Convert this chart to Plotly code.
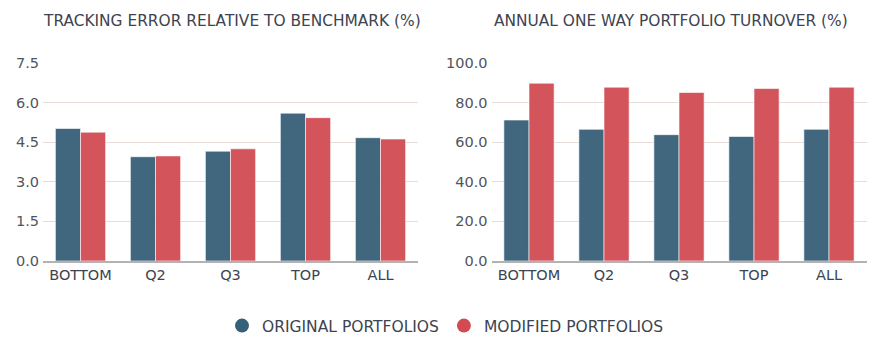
import plotly.graph_objects as go

categories = ["BOTTOM", "Q2", "Q3", "TOP", "ALL"]
te_original = [5.02, 3.95, 4.16, 5.60, 4.67]
te_modified = [4.88, 3.98, 4.25, 5.43, 4.62]
to_original = [71.2, 66.5, 63.8, 62.9, 66.5]
to_modified = [89.8, 87.8, 85.1, 87.1, 87.8]
te_ticks = [0, 1.5, 3.0, 4.5, 6.0, 7.5]
to_ticks = [0, 20, 40, 60, 80, 100]
series_names = ["ORIGINAL PORTFOLIOS", "MODIFIED PORTFOLIOS"]
titles = ["TRACKING ERROR RELATIVE TO BENCHMARK (%)", "ANNUAL ONE WAY PORTFOLIO TURNOVER (%)"]

C_ORIG = "#365f78"
C_MOD = "#d24b53"
TEXT = "#3d4350"
FONT = "DejaVu Sans"

W, H = 871, 352
fig = go.Figure()

def bar(x, y, color, xa, ya):
    return go.Bar(x=x, y=y, xaxis=xa, yaxis=ya, showlegend=False,
                  marker=dict(color=color, opacity=0.95,
                              line=dict(color="rgba(255,255,255,0.6)", width=1)),
                  hoverinfo="x+y")

fig.add_trace(bar(categories, te_original, C_ORIG, "x", "y"))
fig.add_trace(bar(categories, te_modified, C_MOD, "x", "y"))
fig.add_trace(bar(categories, to_original, C_ORIG, "x2", "y2"))
fig.add_trace(bar(categories, to_modified, C_MOD, "x2", "y2"))

for name, c in zip(series_names, [C_ORIG, C_MOD]):
    fig.add_trace(go.Scatter(x=[None], y=[None], mode="markers", name=name,
                             marker=dict(color=c, size=14, symbol="circle"),
                             showlegend=True))

y_dom = [(H - 261) / H, (H - 63) / H]
axis_common = dict(showgrid=False, showline=True, linecolor="#b3b3b3", linewidth=1.5,
                   ticks="", tickfont=dict(family=FONT, size=14.5, color=TEXT),
                   automargin=False, fixedrange=True)
yaxis_common = dict(showgrid=True, gridcolor="#e6ddd8", gridwidth=1, zeroline=False,
                    showline=False, ticks="", tickformat=".1f",
                    tickfont=dict(family=FONT, size=14.5, color="#50555c"),
                    automargin=False, domain=y_dom, fixedrange=True,
                    ticklabelstandoff=3)

fig.update_layout(
    width=W, height=H,
    margin=dict(l=0, r=0, t=0, b=0),
    paper_bgcolor="white", plot_bgcolor="white",
    barmode="group", bargap=0.33, bargroupgap=0,
    font=dict(family=FONT, color=TEXT),
    xaxis=dict(domain=[43 / W, 418 / W], anchor="y", **axis_common),
    xaxis2=dict(domain=[491.5 / W, 866.5 / W], anchor="y2", **axis_common),
    yaxis=dict(range=[0, 7.5], tickvals=te_ticks, anchor="x", **yaxis_common),
    yaxis2=dict(range=[0, 100], tickvals=to_ticks, anchor="x2", **yaxis_common),
    legend=dict(orientation="h", x=0.5 + 10 / W, xanchor="center", y=(H - 326) / H,
                yanchor="middle", font=dict(family=FONT, size=15.5, color=TEXT),
                itemwidth=30, tracegroupgap=0, bgcolor="rgba(0,0,0,0)"),
    annotations=[
        dict(text=titles[0], x=232 / W, y=(H - 21) / H, xref="paper", yref="paper",
             xanchor="center", yanchor="middle", showarrow=False,
             font=dict(family=FONT, size=15.4, color=TEXT)),
        dict(text=titles[1], x=671 / W, y=(H - 21) / H, xref="paper", yref="paper",
             xanchor="center", yanchor="middle", showarrow=False,
             font=dict(family=FONT, size=15.4, color=TEXT)),
    ],
)

fig.write_html("out.html")
